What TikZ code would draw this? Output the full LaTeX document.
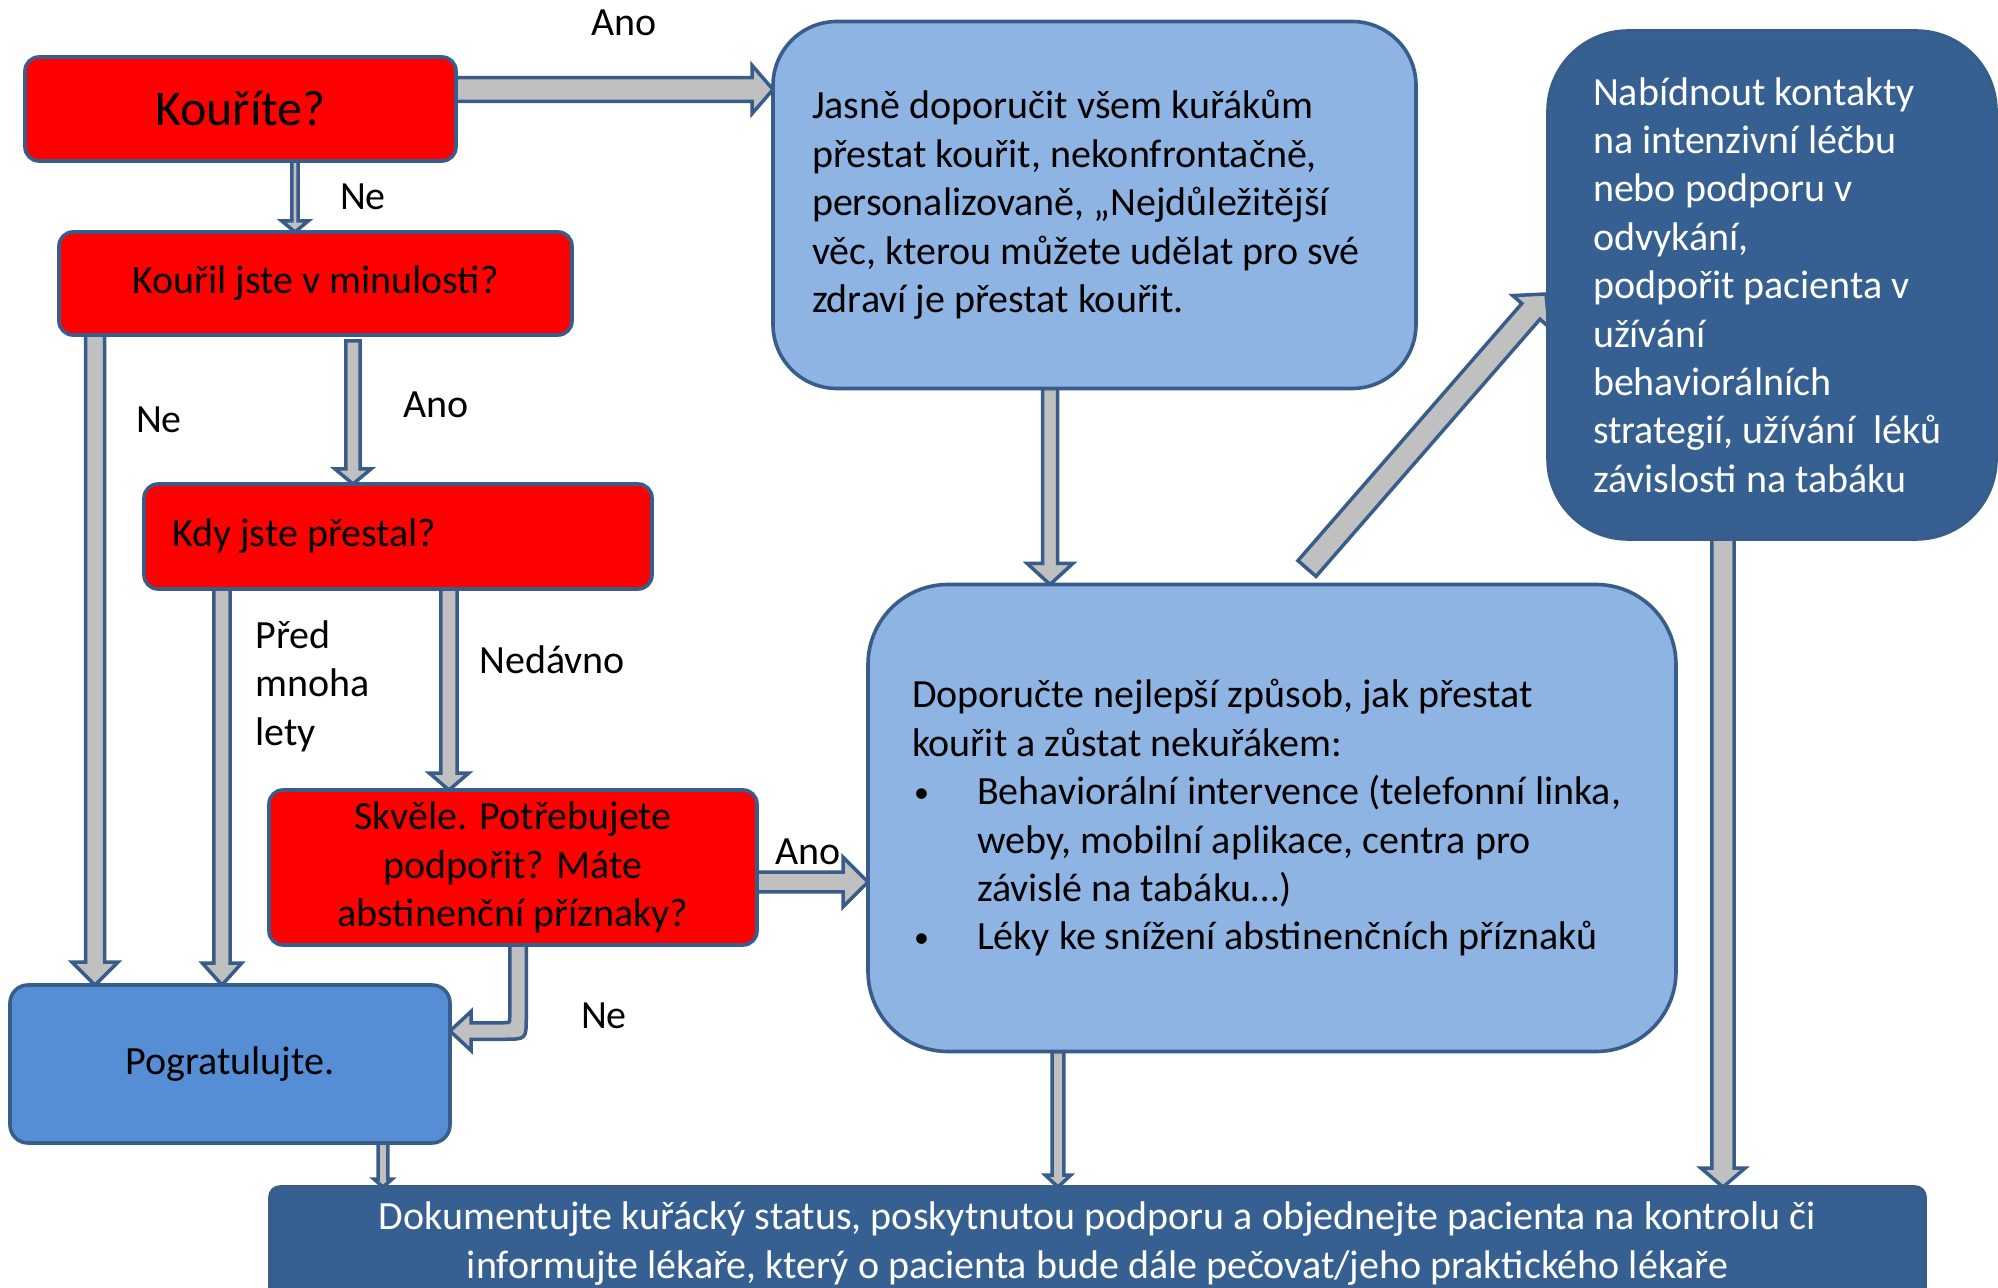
\documentclass[tikz,border=0pt]{standalone}
\usepackage{fontspec}
\setmainfont{Carlito}
\usetikzlibrary{calc,backgrounds}
\definecolor{boxline}{HTML}{385D8A}
\definecolor{qred}{HTML}{FF0000}
\definecolor{lblue}{HTML}{8EB4E3}
\definecolor{mblue}{HTML}{558ED5}
\definecolor{dblue}{HTML}{376092}
\definecolor{agray}{HTML}{C0C0C0}
% block arrow: #1 from, #2 to, #3 shaft half width, #4 head half width, #5 head length
\newcommand{\barrow}[5]{%
  \coordinate (bah) at ($(#2)!#5!(#1)$);
  \draw[arrowbody] ($(#1)!#3!90:(#2)$) -- ($(bah)!#3!90:(#2)$) -- ($(bah)!#4!90:(#2)$) -- (#2)
    -- ($(bah)!#4!-90:(#2)$) -- ($(bah)!#3!-90:(#2)$) -- ($(#1)!#3!-90:(#2)$) -- cycle;}
\newcommand{\mybul}{\makebox[32.5pt][l]{\hspace*{1pt}\raisebox{1pt}{\fontsize{15}{24}\selectfont •}}}
\begin{document}
\begin{tikzpicture}[x=0.5pt,y=-0.5pt,
  font=\fontsize{20}{24.2}\selectfont,
  box/.style={draw=boxline, line width=1.8pt, inner sep=0pt, outer sep=0pt},
  qbox/.style={box, fill=qred, rounded corners=7pt},
  arrowbody/.style={draw=boxline, fill=agray, line width=1.75pt, line join=miter},
  lbl/.style={inner sep=0pt}]
\useasboundingbox (0,0) rectangle (1998,1288);
\begin{pgfonlayer}{background}
\fill[white] (0,0) rectangle (1998,1288);
\end{pgfonlayer}

% question boxes
\node[qbox, minimum width=215.5pt, minimum height=52pt, font=\fontsize{25}{30}\selectfont] (kour) at (240.5,109) {Kouříte?};
\node[qbox, minimum width=256.5pt, minimum height=51.5pt] (kouril) at (315.5,283.5) {Kouřil jste v minulosti?};
\node[qbox, minimum width=254pt, minimum height=52.5pt, text width=226pt, align=flush left] (kdy) at (398,536.5) {Kdy jste přestal?};
\node[qbox, minimum width=244pt, minimum height=77.5pt, align=center] (skv) at (513,867.5) {Skvěle. Potřebujete\\podpořit? Máte\\abstinenční příznaky?};
\node[box, fill=mblue, rounded corners=9pt, minimum width=220pt, minimum height=79pt] (pogr) at (230,1064) {Pogratulujte.};

% advice boxes
\node[box, fill=lblue, rounded corners=32pt, minimum width=321.5pt, minimum height=183.5pt, text width=282.5pt, align=flush left] (jas) at (1094.5,205)
  {Jasně doporučit všem kuřákům\\přestat kouřit, nekonfrontačně,\\personalizovaně, „Nejdůležitější\\věc, kterou můžete udělat pro své\\zdraví je přestat kouřit.};
\node[box, fill=dblue, text=white, rounded corners=40pt, minimum width=224pt, minimum height=254pt, text width=179pt, align=flush left] (nab) at (1772,285)
  {Nabídnout kontakty\\na intenzivní léčbu\\nebo podporu v\\odvykání,\\podpořit pacienta v\\užívání\\behaviorálních\\strategií, užívání~ léků\\závislosti na tabáku};
\node[box, fill=lblue, rounded corners=40pt, minimum width=404pt, minimum height=233.5pt, text width=360pt, align=flush left] (dop) at (1272,818)
  {Doporučte nejlepší způsob, jak přestat\\kouřit a zůstat nekuřákem:\\
   \mybul Behaviorální intervence (telefonní linka,\\
   \hspace*{32.5pt}weby, mobilní aplikace, centra pro\\
   \hspace*{32.5pt}závislé na tabáku…)\\
   \mybul Léky ke snížení abstinenčních příznaků};
\node[box, fill=dblue, text=white, rounded corners=5pt, minimum width=827.5pt, minimum height=56.5pt, align=center] (bot) at (1097.5,1243.5)
  {Dokumentujte kuřácký status, poskytnutou podporu a objednejte pacienta na kontrolu či\\informujte lékaře, který o pacienta bude dále pečovat/jeho praktického lékaře};

% labels
\node[lbl] (lano1) at (624,23) {Ano};
\node[lbl] (lne1) at (363,197) {Ne};
\node[lbl] (lne2) at (159,420) {Ne};
\node[lbl] (lano2) at (436,405) {Ano};
\node[lbl, align=flush left, anchor=west] (lpred) at (255,686) {Před\\mnoha\\lety};
\node[lbl] (lned) at (552,660) {Nedávno};
\node[lbl] (lano3) at (808,852) {Ano};
\node[lbl] (lne3) at (604,1016) {Ne};

% arrows
\begin{pgfonlayer}{background}
\coordinate (a1s) at ($(kour.east)+(0,-19.5)$);
\coordinate (a1e) at (jas.west |- a1s);
\barrow{a1s}{a1e}{5.9pt}{12.1pt}{10.5pt}
\coordinate (a2s) at ($(kour.south)+(54.5,0)$);
\coordinate (a2e) at (a2s |- kouril.north);
\barrow{a2s}{a2e}{1.6pt}{6.6pt}{5.5pt}
\coordinate (a3s) at ($(kouril.south)+(-220.5,0)$);
\coordinate (a3e) at (a3s |- pogr.north);
\barrow{a3s}{a3e}{4.75pt}{11.6pt}{11.5pt}
\coordinate (a4s) at ($(kouril.south)+(37.5,6)$);
\coordinate (a4e) at (a4s |- kdy.north);
\barrow{a4s}{a4e}{3.6pt}{9pt}{7.5pt}
\coordinate (a5s) at ($(kdy.south)+(-176,0)$);
\coordinate (a5e) at (a5s |- pogr.north);
\barrow{a5s}{a5e}{4.1pt}{9.9pt}{11pt}
\coordinate (a6s) at ($(kdy.south)+(51,0)$);
\coordinate (a6e) at (a6s |- skv.north);
\barrow{a6s}{a6e}{4.1pt}{9.9pt}{8.5pt}
\coordinate (a7s) at ($(skv.east)+(0,14.5)$);
\coordinate (a7e) at (dop.west |- a7s);
\barrow{a7s}{a7e}{4.9pt}{12.4pt}{12.5pt}
% bent arrow Skvele -> Pogratulujte
\coordinate (a8s) at ($(skv.south)+(5,0)$);
\coordinate (a8e) at ($(pogr.east)+(0,-33)$);
\coordinate (k8) at (a8s |- a8e);
\draw[arrowbody] ($(a8s)+(8.25,0)$) -- ($(k8)+(8.25,-14)$) .. controls ($(k8)+(8.25,8.25)$) .. ($(k8)+(-14,8.25)$)
  -- ($(a8e)+(21,8.25)$) -- ($(a8e)+(21,19.5)$) -- (a8e) -- ($(a8e)+(21,-19.5)$) -- ($(a8e)+(21,-8.25)$)
  -- ($(k8)+(-14,-8.25)$) .. controls ($(k8)+(-8.25,-8.25)$) .. ($(k8)+(-8.25,-14)$) -- ($(a8s)+(-8.25,0)$) -- cycle;
\coordinate (a9s) at ($(pogr.south)+(153,0)$);
\coordinate (a9e) at (a9s |- bot.north);
\barrow{a9s}{a9e}{2.4pt}{4.6pt}{4pt}
\coordinate (a10s) at ($(jas.south)+(-44.5,0)$);
\coordinate (a10e) at (a10s |- dop.north);
\barrow{a10s}{a10e}{3.75pt}{11.4pt}{10.5pt}
\coordinate (a11s) at ($(dop.north)+(35,-16)$);
\coordinate (a11e) at ($(nab.west)+(-2,9)$);
\barrow{a11s}{a11e}{6pt}{12pt}{11.5pt}
\coordinate (a12s) at ($(dop.south)+(-214,0)$);
\coordinate (a12e) at (a12s |- bot.north);
\barrow{a12s}{a12e}{2.9pt}{6.4pt}{6pt}
\coordinate (a13s) at ($(nab.south)+(-49,0)$);
\coordinate (a13e) at (a13s |- bot.north);
\barrow{a13s}{a13e}{5.6pt}{11.1pt}{9.5pt}
\end{pgfonlayer}
\end{tikzpicture}
\end{document}
